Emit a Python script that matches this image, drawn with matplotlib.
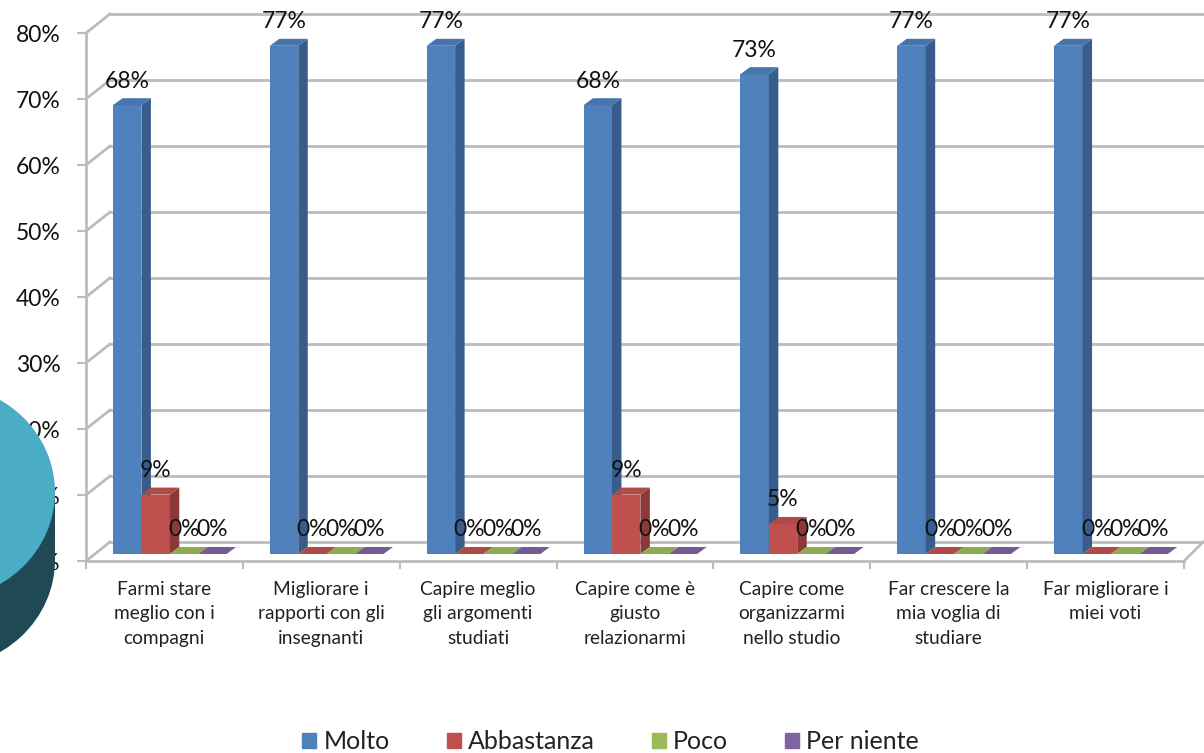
import numpy as np
import matplotlib
matplotlib.use('Agg')
import matplotlib.pyplot as plt
from matplotlib.patches import Ellipse, Rectangle, Patch

plt.rcParams['font.family'] = ['Lato', 'DejaVu Sans']

categories = ['Farmi stare\nmeglio con i\ncompagni',
              'Migliorare i\nrapporti con gli\ninsegnanti',
              'Capire meglio\ngli argomenti\nstudiati',
              'Capire come è\ngiusto\nrelazionarmi',
              'Capire come\norganizzarmi\nnello studio',
              'Far crescere la\nmia voglia di\nstudiare',
              'Far migliorare i\nmiei voti']
series_names = ['Molto', 'Abbastanza', 'Poco', 'Per niente']
molto = [68, 77, 77, 68, 72.7, 77, 77]
abbastanza = [9, 0, 0, 9, 4.55, 0, 0]
poco = [0, 0, 0, 0, 0, 0, 0]
per_niente = [0, 0, 0, 0, 0, 0, 0]
y_ticks = [0, 10, 20, 30, 40, 50, 60, 70, 80]

front_cols = ['#4F81BD', '#C0504D', '#9BBB59', '#8064A2']
side_cols = ['#385D8A', '#8C3A38', '#71893F', '#5C4776']
top_cols = ['#4675AC', '#B04A47', '#8DAB50', '#745B94']
grid_col = '#BCBCBC'

W, H = 1204, 753
px_x = 7 / 1098.0    # category units per pixel
px_y = 80 / 528.0    # percent units per pixel

fig = plt.figure(figsize=(W / 100, H / 100), dpi=100)
ax = fig.add_axes([86 / W, (H - 561) / H, 1098 / W, 528 / H])
ax.set_xlim(0, 7)
ax.set_ylim(0, 80)

# walls of the fake 3d box
wall_x = 24 * px_x
wall_y = 19 * px_y
for t in y_ticks:
    ax.plot([0, wall_x], [t, t + wall_y], color=grid_col, lw=2, clip_on=False, zorder=1)
    ax.plot([wall_x, 7 + wall_x * 0.8], [t + wall_y, t + wall_y], color=grid_col, lw=2,
            clip_on=False, zorder=1)
ax.plot([7, 7 + wall_x * 0.8], [0, wall_y], color=grid_col, lw=2, clip_on=False, zorder=1)

ax.set_yticks(y_ticks)
ax.set_yticklabels(['%d%%' % t for t in y_ticks], fontsize=16.5, color='#111111')
ax.set_xticks(range(8))
ax.set_xticklabels([])
ax.set_xticks(np.arange(7) + 0.5, categories, minor=True, fontsize=13.8, color='#222222',
              linespacing=1.52)
ax.tick_params(axis='x', which='major', length=6, width=1.5, color=grid_col)
ax.tick_params(axis='x', which='minor', length=0, pad=14.5)
ax.tick_params(axis='y', length=6.5, width=1.5, color=grid_col, pad=12)
for s in ['top', 'right']:
    ax.spines[s].set_visible(False)
for s in ['left', 'bottom']:
    ax.spines[s].set_color(grid_col)
    ax.spines[s].set_linewidth(2)

# bars
offs = 27 * px_x
bar_w = 28.4 * px_x
base = 7 * px_y
depth_x = 9.5 * px_x
depth_y = 7 * px_y
all_series = [molto, abbastanza, poco, per_niente]

for j, vals in enumerate(all_series):
    for i, v in enumerate(vals):
        x0 = i + offs + j * bar_w
        x1 = x0 + bar_w
        top = base + v
        ax.bar(x0, v, bar_w, bottom=base, align='edge', color=front_cols[j], zorder=3 + j,
               clip_on=False)
        ax.fill([x1, x1 + depth_x, x1 + depth_x, x1],
                [base, base + depth_y, top + depth_y, top],
                color=side_cols[j], lw=0, zorder=3 + j, clip_on=False)
        ax.fill([x0, x0 + depth_x, x1 + depth_x, x1],
                [top, top + depth_y, top + depth_y, top],
                color=top_cols[j], lw=0, zorder=3 + j, clip_on=False)

# labels go after so they sit on top of every bar
for j, vals in enumerate(all_series):
    for i, v in enumerate(vals):
        xc = i + offs + (j + 0.5) * bar_w
        ax.annotate('%.0f%%' % v, (xc, base + v), xytext=(0, 24), textcoords='offset pixels',
                    ha='center', va='center', fontsize=16.5, color='#111111', zorder=10,
                    annotation_clip=False)

handles = [Patch(color=c, label=n) for c, n in zip(front_cols, series_names)]
fig.legend(handles=handles, ncol=4, loc='lower center', bbox_to_anchor=(0.507, -0.03),
           frameon=False, fontsize=18, handlelength=0.56, handleheight=0.56,
           handletextpad=0.28, columnspacing=2.28, labelcolor='#222222')

# piece of the pie chart lying over the left side
over = fig.add_axes([0, 0, 1, 1], facecolor='none')
over.set_xlim(0, W)
over.set_ylim(H, 0)
over.axis('off')
over.add_patch(Ellipse((-60, 560), 230, 216, color='#1F4A55', lw=0))
over.add_patch(Rectangle((-175, 492), 230, 68, color='#1F4A55', lw=0))
over.add_patch(Ellipse((-60, 492), 230, 216, color='#4BACC6', lw=0))

fig.savefig('out.png', dpi=100)
